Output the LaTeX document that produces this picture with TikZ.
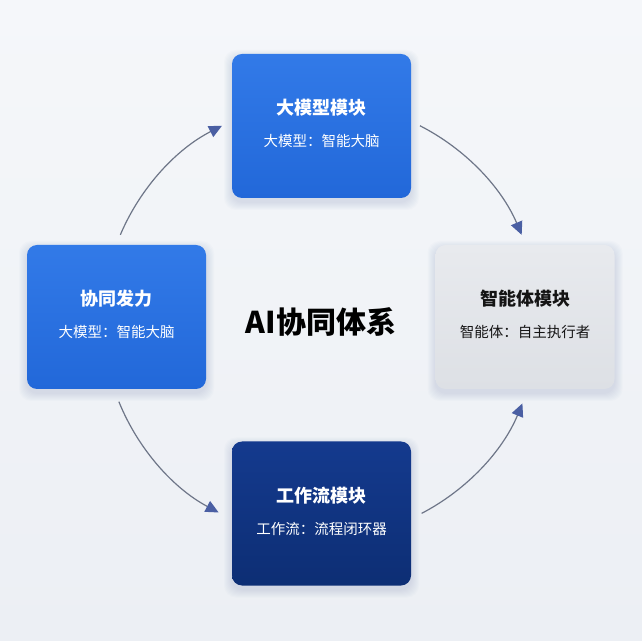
\documentclass[tikz,border=0pt]{standalone}
\usepackage{fontspec}
\setmainfont{Noto Sans CJK SC}
\usetikzlibrary{arrows.meta}
\definecolor{bgtop}{HTML}{F5F7FA}
\definecolor{bgbot}{HTML}{ECEFF4}
\definecolor{blueA}{HTML}{327AE8}
\definecolor{blueB}{HTML}{2268D9}
\definecolor{navyA}{HTML}{143A8E}
\definecolor{navyB}{HTML}{0D2E74}
\definecolor{greyA}{HTML}{E8EAEE}
\definecolor{greyB}{HTML}{DDE0E5}
\definecolor{arrowline}{HTML}{6E7688}
\definecolor{arrowhead}{HTML}{4A5FA3}
\definecolor{shadowc}{HTML}{7A8CB0}
\definecolor{darktext}{HTML}{151515}
\newcommand\myboxshadow[2]{%
  \foreach \i in {1,...,8}{%
    \fill[shadowc,opacity=0.028,rounded corners=12pt]
      ({#1-89.5-\i},{#2-72-\i-4}) rectangle ({#1+89.5+\i},{#2+72+\i-4});
  }%
}
\begin{document}
\begin{tikzpicture}[x=1pt,y=1pt,
  card/.style={minimum width=179pt, minimum height=144pt, rounded corners=10pt, inner sep=0pt, draw=none},
  bluecard/.style={card, top color=blueA, bottom color=blueB},
  navycard/.style={card, top color=navyA, bottom color=navyB},
  greycard/.style={card, top color=greyA, bottom color=greyB},
  ttl/.style={font=\fontsize{18}{22}\selectfont\bfseries, inner sep=0pt},
  sub/.style={font=\fontsize{14.5}{18}\selectfont, inner sep=0pt},
  cyc/.style={draw=arrowline, line width=1.2pt, -{Triangle[length=13pt,width=12pt,color=arrowhead,fill=arrowhead]}}
]
\shade[top color=bgtop, bottom color=bgbot] (0,0) rectangle (642,640);
\useasboundingbox (0,0) rectangle (642,640);

\myboxshadow{321.5}{514}
\myboxshadow{525}{323}
\myboxshadow{116.5}{323}
\myboxshadow{321.5}{126.5}

\node[bluecard] (top) at (321.5,514) {};
\node[greycard] (right) at (525,323) {};
\node[bluecard] (left) at (116.5,323) {};
\node[navycard] (bottom) at (321.5,126.5) {};

\node[ttl, text=white] (topT) at ([yshift=18pt]top.center) {大模型模块};
\node[sub, text=white] (topS) at ([yshift=-15pt]top.center) {大模型：智能大脑};
\node[ttl, text=darktext] (rightT) at ([yshift=18pt]right.center) {智能体模块};
\node[sub, text=darktext] (rightS) at ([yshift=-15pt]right.center) {智能体：自主执行者};
\node[ttl, text=white] (leftT) at ([yshift=18pt]left.center) {协同发力};
\node[sub, text=white] (leftS) at ([yshift=-15pt]left.center) {大模型：智能大脑};
\node[ttl, text=white] (bottomT) at ([yshift=18pt]bottom.center) {工作流模块};
\node[sub, text=white] (bottomS) at ([yshift=-15pt]bottom.center) {工作流：流程闭环器};

\node[font=\fontsize{30}{35}\selectfont\bfseries, text=black] (title) at (321,318) {AI协同体系};

\coordinate (ctr) at (321,320);
\coordinate (a1) at ([shift={(157:218)}]ctr);
\coordinate (a2) at ([shift={(63:218)}]ctr);
\coordinate (a3) at ([shift={(-62.5:218)}]ctr);
\coordinate (a4) at ([shift={(202:218)}]ctr);
\draw[cyc] (a1) arc[start angle=157, end angle=117, radius=218];
\draw[cyc] (a2) arc[start angle=63, end angle=23, radius=218];
\draw[cyc] (a3) arc[start angle=-62.5, end angle=-22.5, radius=218];
\draw[cyc] (a4) arc[start angle=202, end angle=242, radius=218];
\end{tikzpicture}
\end{document}
